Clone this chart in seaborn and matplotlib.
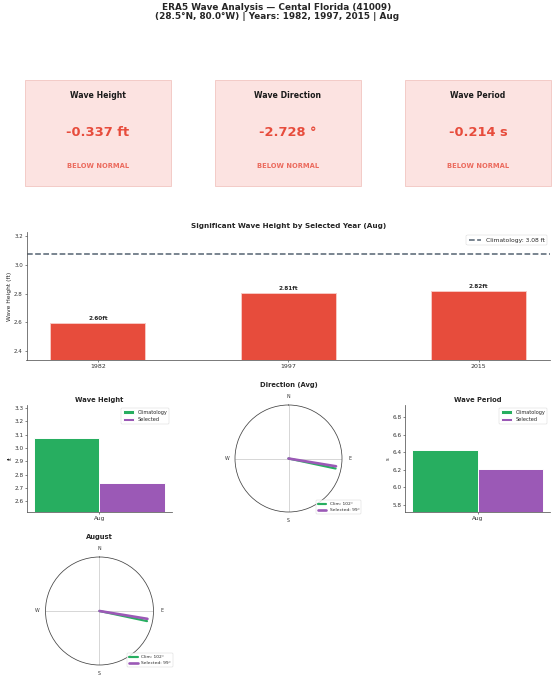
import numpy as np
import pandas as pd
import matplotlib
matplotlib.use("Agg")
import matplotlib.pyplot as plt
from matplotlib.patches import Rectangle
from matplotlib.ticker import MultipleLocator
import seaborn as sns

# ---------------- data ----------------
years = ["1982", "1997", "2015"]
hs_years = [2.598, 2.806, 2.817]          # ft
hs_clim = 3.077                            # ft
hs_sel = float(np.mean(hs_years))
dir_clim = 102.03                          # deg
dir_sel = 99.302                           # deg
tp_clim = 6.426                            # s
tp_sel = 6.212                             # s
month = "Aug"
month_name = "August"
series_names = ["Climatology", "Selected"]
card_titles = ["Wave Height", "Wave Direction", "Wave Period"]

RED = "#e74c3c"
GREEN = "#27ae60"
PURPLE = "#9b59b6"
DARK = "#2c3e50"

sns.set_theme(style="ticks")
plt.rcParams["font.family"] = ["DejaVu Sans"]
plt.rcParams["axes.edgecolor"] = "#555555"
plt.rcParams["axes.linewidth"] = 1.6
plt.rcParams["xtick.color"] = "#333333"
plt.rcParams["ytick.color"] = "#333333"

W, H = 554, 680
DPI = 34.625
fig = plt.figure(figsize=(W / DPI, H / DPI), dpi=DPI)


def box(x0, y0, x1, y1):
    return [x0 / W, 1 - y1 / H, (x1 - x0) / W, (y1 - y0) / H]


fig.suptitle("ERA5 Wave Analysis \u2014 Cental Florida (41009)\n"
             f"(28.5\u00b0N, 80.0\u00b0W) | Years: {', '.join(years)} | {month}",
             fontsize=18.5, fontweight="bold", y=0.996, va="top", linespacing=1.05)

# ---------------- cards ----------------
diffs = [hs_sel - hs_clim, dir_sel - dir_clim, tp_sel - tp_clim]
units = ["ft", "\u00b0", "s"]
card_x = [(25, 171), (215, 361), (405, 551)]
for (x0, x1), title, d, u in zip(card_x, card_titles, diffs, units):
    ax = fig.add_axes(box(x0, 80, x1, 186))
    ax.set_axis_off()
    ax.add_patch(Rectangle((0, 0), 1, 1, transform=ax.transAxes,
                           facecolor="#fce3e1", edgecolor="#f3cbc7",
                           linewidth=2, clip_on=False))
    ax.text(0.5, 0.85, title, ha="center", va="center", fontsize=16,
            fontweight="bold", color="#1a1a1a", transform=ax.transAxes)
    ax.text(0.5, 0.5, f"{d:.3f} {u}", ha="center", va="center", fontsize=27,
            fontweight="bold", color=RED, transform=ax.transAxes)
    ax.text(0.5, 0.19, "BELOW NORMAL" if d < 0 else "ABOVE NORMAL",
            ha="center", va="center", fontsize=14, fontweight="bold",
            color=RED, alpha=0.8, transform=ax.transAxes)

# ---------------- main bar chart ----------------
ax = fig.add_axes(box(26.5, 232, 550, 360))
df = pd.DataFrame({"Year": years, "Hs": hs_years})
sns.barplot(data=df, x="Year", y="Hs", color=RED, saturation=1, width=0.5,
            edgecolor="#f8c9c4", linewidth=2, ax=ax)
ax.axhline(hs_clim, color=DARK, linestyle="--", linewidth=3.2, alpha=0.8,
           label=f"Climatology: {hs_clim:.2f} ft")
for i, v in enumerate(hs_years):
    ax.text(i, v + 0.015, f"{v:.2f}ft", ha="center", va="bottom",
            fontsize=12, fontweight="bold")
ax.set_xlim(-0.375, len(years) - 1 + 0.375)
ax.set_ylim(min(hs_years) * 0.9, max(max(hs_years), hs_clim) * 1.05)
ax.yaxis.set_major_locator(MultipleLocator(0.2))
ax.set_xlabel("")
ax.set_ylabel("Wave Height (ft)", fontsize=12.5)
ax.set_title(f"Significant Wave Height by Selected Year ({month})",
             fontsize=15, fontweight="bold", pad=8)
ax.tick_params(axis="y", labelsize=11.5, length=4, width=1.2)
ax.tick_params(axis="x", labelsize=13, length=4, width=1.2)
ax.legend(loc="upper right", fontsize=12.5, frameon=True)
sns.despine(ax=ax)


# ---------------- small bar charts ----------------
def small_bar(rect, clim, sel, title, ylabel):
    ax = fig.add_axes(rect)
    d = pd.DataFrame({"Month": [month, month], "Value": [clim, sel],
                      "Type": series_names})
    sns.barplot(data=d, x="Month", y="Value", hue="Type",
                palette=[GREEN, PURPLE], saturation=1, width=0.7,
                edgecolor="white", linewidth=2, ax=ax)
    ax.set_xlim(-0.385, 0.385)
    ax.set_ylim(min(clim, sel) * 0.92, max(clim, sel) * 1.08)
    ax.set_xlabel("")
    ax.set_ylabel(ylabel, fontsize=11)
    ax.set_title(title, fontsize=14, fontweight="bold", pad=6)
    ax.tick_params(labelsize=12, length=4, width=1.2)
    ax.legend(loc="upper right", fontsize=10.5, frameon=True)
    sns.despine(ax=ax)
    return ax


small_bar(box(27, 405, 172, 512), hs_clim, hs_sel, "Wave Height", "ft")
small_bar(box(405, 405, 550, 512), tp_clim, tp_sel, "Wave Period", "s")


# ---------------- polar direction plots ----------------
def polar_dir(rect, title):
    ax = fig.add_axes(rect, projection="polar")
    ax.set_theta_zero_location("N")
    ax.set_theta_direction(-1)
    ax.plot([0, np.deg2rad(dir_clim)], [0, 0.9], color=GREEN, linewidth=4.5,
            label=f"Clim: {dir_clim:.0f}\u00b0")
    ax.plot([0, np.deg2rad(dir_sel)], [0, 0.9], color=PURPLE, linewidth=5.5,
            label=f"Selected: {dir_sel:.0f}\u00b0")
    ax.set_ylim(0, 1)
    ax.set_yticks([])
    ax.set_xticks(np.deg2rad([0, 90, 180, 270]))
    ax.set_xticklabels(["N", "E", "S", "W"], fontsize=10)
    ax.tick_params(axis="x", pad=4)
    ax.xaxis.grid(True, color="#bbbbbb", linewidth=1.2)
    ax.spines["polar"].set_color("#444444")
    ax.spines["polar"].set_linewidth(1.6)
    ax.set_title(title, fontsize=14, fontweight="bold", pad=16)
    ax.legend(loc="lower right", bbox_to_anchor=(1.18, -0.02),
              borderaxespad=0, fontsize=9, frameon=True)
    return ax


polar_dir(box(216, 405, 361, 512), "Direction (Avg)")
polar_dir(box(27, 557, 172, 665), month_name)

fig.savefig("out.png", dpi=DPI)
